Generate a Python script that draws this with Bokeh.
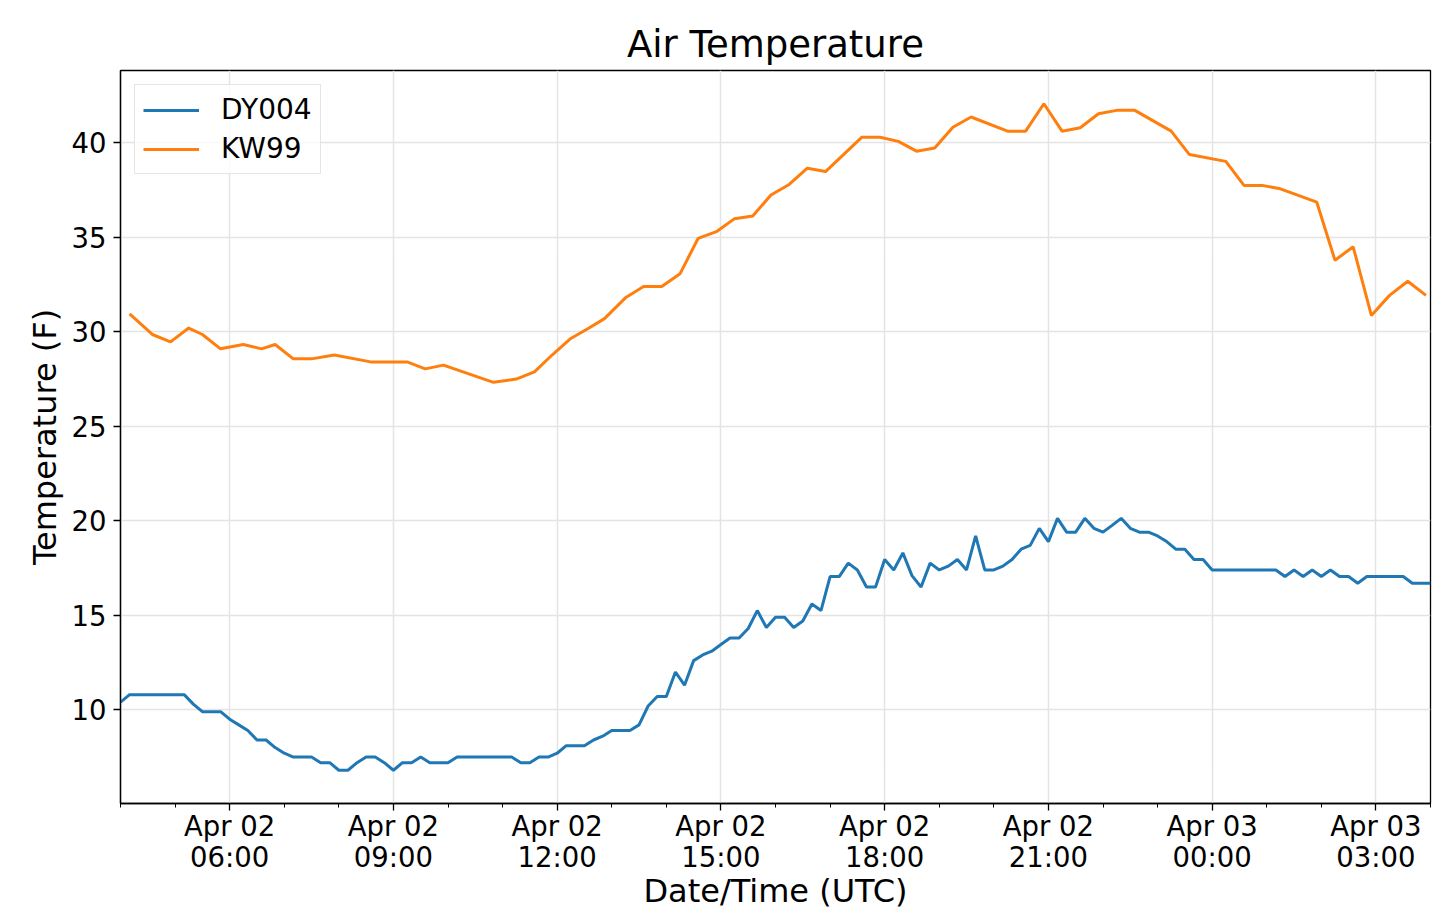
#Air temperature line plot, two stations

#Importing the required packages

import pandas as pd
from bokeh.plotting import figure
from bokeh.models import FixedTicker, DatetimeTickFormatter, Range1d, Legend, LegendItem
from bokeh.embed import file_html
from bokeh.resources import INLINE

#DY004: one reading every 10 minutes starting Apr 02 04:00 (UTC)

dy004_start = "2019-04-02 04:00"

dy004_temp = [
    10.4, 10.8, 10.8, 10.8, 10.8, 10.8, 10.8, 10.8, 10.3, 9.9,
    9.9, 9.9, 9.5, 9.2, 8.9, 8.4, 8.4, 8.0, 7.7, 7.5,
    7.5, 7.5, 7.2, 7.2, 6.8, 6.8, 7.2, 7.5, 7.5, 7.2,
    6.8, 7.2, 7.2, 7.5, 7.2, 7.2, 7.2, 7.5, 7.5, 7.5,
    7.5, 7.5, 7.5, 7.5, 7.2, 7.2, 7.5, 7.5, 7.7, 8.1,
    8.1, 8.1, 8.4, 8.6, 8.9, 8.9, 8.9, 9.2, 10.2, 10.7,
    10.7, 12.0, 11.3, 12.6, 12.9, 13.1, 13.45, 13.8, 13.8, 14.3,
    15.25, 14.35, 14.9, 14.9, 14.35, 14.7, 15.6, 15.25, 17.05, 17.05,
    17.76, 17.4, 16.5, 16.5, 17.95, 17.4, 18.3, 17.1, 16.5, 17.76,
    17.4, 17.6, 17.95, 17.4, 19.2, 17.4, 17.4, 17.6, 17.95, 18.5,
    18.7, 19.6, 18.9, 20.13, 19.4, 19.4, 20.13, 19.6, 19.4, 19.76,
    20.13, 19.6, 19.4, 19.4, 19.2, 18.9, 18.5, 18.5, 17.95, 17.95,
    17.4, 17.4, 17.4, 17.4, 17.4, 17.4, 17.4, 17.4, 17.05, 17.4,
    17.05, 17.4, 17.05, 17.4, 17.05, 17.05, 16.7, 17.05, 17.05, 17.05,
    17.05, 17.05, 16.7, 16.7, 16.7,
]

#KW99: irregular report times

kw99_times = [
    "2019-04-02 04:10", "2019-04-02 04:35", "2019-04-02 04:55", "2019-04-02 05:15",
    "2019-04-02 05:30", "2019-04-02 05:50", "2019-04-02 06:15", "2019-04-02 06:35",
    "2019-04-02 06:50", "2019-04-02 07:10", "2019-04-02 07:30", "2019-04-02 07:55",
    "2019-04-02 08:35", "2019-04-02 09:15", "2019-04-02 09:35", "2019-04-02 09:55",
    "2019-04-02 10:50", "2019-04-02 11:15", "2019-04-02 11:35", "2019-04-02 11:55",
    "2019-04-02 12:15", "2019-04-02 12:35", "2019-04-02 12:52", "2019-04-02 13:15",
    "2019-04-02 13:35", "2019-04-02 13:55", "2019-04-02 14:15", "2019-04-02 14:35",
    "2019-04-02 14:55", "2019-04-02 15:15", "2019-04-02 15:35", "2019-04-02 15:55",
    "2019-04-02 16:15", "2019-04-02 16:35", "2019-04-02 16:55", "2019-04-02 17:35",
    "2019-04-02 17:55", "2019-04-02 18:15", "2019-04-02 18:35", "2019-04-02 18:55",
    "2019-04-02 19:15", "2019-04-02 19:35", "2019-04-02 20:15", "2019-04-02 20:35",
    "2019-04-02 20:55", "2019-04-02 21:15", "2019-04-02 21:35", "2019-04-02 21:55",
    "2019-04-02 22:15", "2019-04-02 22:35", "2019-04-02 23:15", "2019-04-02 23:35",
    "2019-04-03 00:15", "2019-04-03 00:35", "2019-04-03 00:55", "2019-04-03 01:15",
    "2019-04-03 01:55", "2019-04-03 02:15", "2019-04-03 02:35", "2019-04-03 02:55",
    "2019-04-03 03:15", "2019-04-03 03:35", "2019-04-03 03:55",
]

kw99_temp = [
    30.95, 29.86, 29.47, 30.2, 29.86, 29.1, 29.33, 29.1,
    29.33, 28.57, 28.57, 28.77, 28.41, 28.41, 28.04, 28.24,
    27.33, 27.5, 27.88, 28.8, 29.65, 30.2, 30.7, 31.8,
    32.4, 32.4, 33.07, 34.95, 35.3, 35.99, 36.13, 37.24,
    37.8, 38.66, 38.48, 40.3, 40.3, 40.08, 39.56, 39.73,
    40.83, 41.37, 40.62, 40.62, 42.07, 40.62, 40.8, 41.54,
    41.72, 41.72, 40.62, 39.38, 39.02, 37.75, 37.75, 37.57,
    36.86, 33.79, 34.5, 30.87, 31.93, 32.68, 31.93,
]

#Tick positions on the time axis

major_ticks = ["2019-04-02 06:00", "2019-04-02 09:00", "2019-04-02 12:00", "2019-04-02 15:00",
               "2019-04-02 18:00", "2019-04-02 21:00", "2019-04-03 00:00", "2019-04-03 03:00"]
y_ticks = [10, 15, 20, 25, 30, 35, 40]

dy004_times = pd.date_range(dy004_start, periods=len(dy004_temp), freq="10min")
kw99_dt = pd.to_datetime(kw99_times)


def ms(t):
    return pd.Timestamp(t).value / 1e6


major_ms = [ms(t) for t in major_ticks]
minor_ms = [ms(t) for t in pd.date_range("2019-04-02 04:00", "2019-04-03 04:00", freq="1h")]

FONT = "DejaVu Sans"

#Creating the figure

p = figure(width=1439, height=924, x_axis_type="datetime",
           output_backend="svg", toolbar_location=None,
           x_range=Range1d(ms("2019-04-02 04:00"), ms("2019-04-03 04:00")),
           y_range=Range1d(5.04, 43.83),
           min_border_left=120, min_border_right=9, min_border_top=70, min_border_bottom=121)

p.title.text = "Air Temperature"
p.title.align = "center"
p.title.text_font = FONT
p.title.text_font_size = "37px"
p.title.text_font_style = "normal"
p.title.text_color = "black"

#Drawing the two lines

r1 = p.line(dy004_times, dy004_temp, line_color="#1f77b4", line_width=3)
r2 = p.line(kw99_dt, kw99_temp, line_color="#ff7f0e", line_width=3)

#Axes

p.xaxis.ticker = FixedTicker(ticks=major_ms, minor_ticks=minor_ms)
p.xaxis.formatter = DatetimeTickFormatter(hours="%b %d\n%H:%M", days="%b %d\n%H:%M",
                                          hourmin="%b %d\n%H:%M")
p.yaxis.ticker = FixedTicker(ticks=y_ticks)

p.xaxis.axis_label = "Date/Time (UTC)"
p.yaxis.axis_label = "Temperature (F)"

for ax in [p.xaxis[0], p.yaxis[0]]:
    ax.axis_label_text_font = FONT
    ax.axis_label_text_font_size = "32px"
    ax.axis_label_text_font_style = "normal"
    ax.axis_label_text_color = "black"
    ax.major_label_text_font = FONT
    ax.major_label_text_font_size = "27.5px"
    ax.major_label_text_color = "black"
    ax.axis_line_color = "black"
    ax.axis_line_width = 1.3
    ax.major_tick_line_color = "black"
    ax.major_tick_line_width = 1.3
    ax.major_tick_out = 7
    ax.major_tick_in = 0
    ax.minor_tick_line_color = "black"
    ax.minor_tick_out = 4
    ax.minor_tick_in = 0

p.xaxis.major_label_text_line_height = 0.97
p.xaxis.major_label_standoff = -1
p.yaxis.major_label_standoff = 7
p.xaxis.axis_label_standoff = -4
p.yaxis.axis_label_standoff = 5
p.yaxis.minor_tick_line_color = None

#Grid and frame

p.grid.grid_line_color = "#e4e4e4"
p.grid.grid_line_width = 1.5
p.outline_line_color = "black"
p.outline_line_width = 1.3
p.background_fill_color = "white"
p.border_fill_color = "white"

#Legend

legend = Legend(items=[LegendItem(label="DY004", renderers=[r1]),
                       LegendItem(label="KW99", renderers=[r2])],
                location="top_left")
legend.label_text_font = FONT
legend.label_text_font_size = "28px"
legend.label_text_color = "black"
legend.glyph_width = 56
legend.glyph_height = 30
legend.label_height = 30
legend.label_standoff = 22
legend.spacing = 6
legend.padding = 8
legend.margin = 14
legend.border_line_color = "#cccccc"
legend.border_line_width = 1.3
legend.background_fill_alpha = 0.8
p.add_layout(legend)

#Output the plot

open("out.html", "w").write(file_html(p, INLINE))
